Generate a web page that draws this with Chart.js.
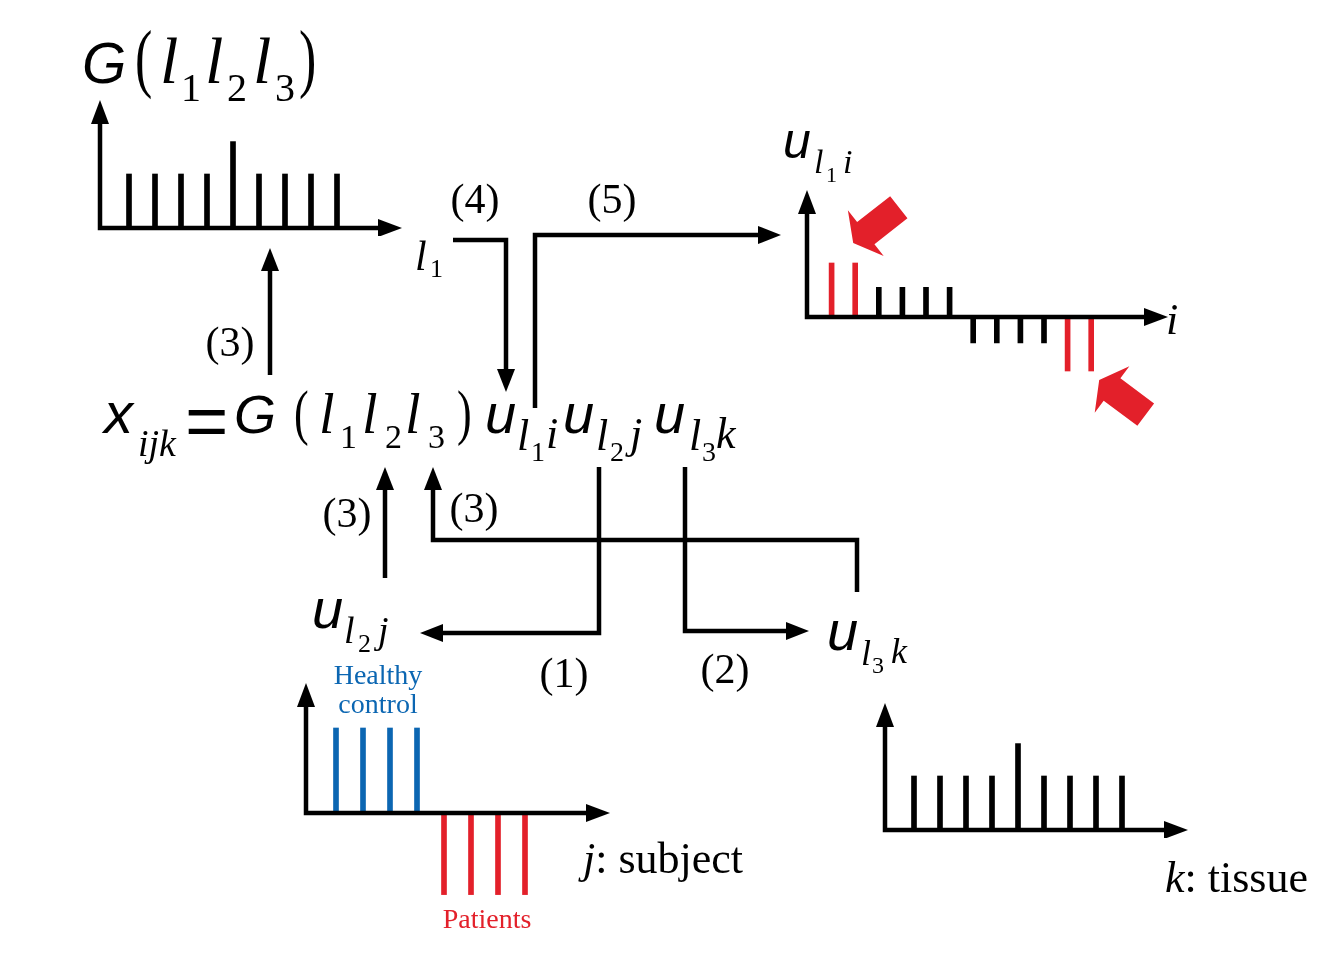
<!DOCTYPE html>
<html>
<head>
<meta charset="utf-8">
<script src="https://cdn.jsdelivr.net/npm/chart.js@4.4.1/dist/chart.umd.min.js"></script>
<style>
  html, body { margin:0; padding:0; background:#fff; }
  #stage { position:relative; width:1323px; height:980px; overflow:hidden; background:#fff; }
  canvas { position:absolute; }
  svg { position:absolute; left:0; top:0; pointer-events:none; }
  .sans { font-family:"Liberation Sans", Arial, sans-serif; font-style:italic; }
  .ser  { font-family:"Liberation Serif", "Times New Roman", serif; }
  .seri { font-family:"Liberation Serif", "Times New Roman", serif; font-style:italic; }
</style>
</head>
<body>
<div id="stage">
  <canvas id="cCore"></canvas>
  <canvas id="cGene"></canvas>
  <canvas id="cSubject"></canvas>
  <canvas id="cTissue"></canvas>
  <svg width="1323" height="980" viewBox="0 0 1323 980" xmlns="http://www.w3.org/2000/svg">
    <g fill="none" stroke="#000" stroke-width="4.5" stroke-linejoin="miter" stroke-linecap="butt">
      <polyline points="453,240 506,240 506,371"/>
      <polyline points="535,408 535,235 760,235"/>
      <polyline points="270,375 270,269"/>
      <polyline points="385,578 385,488"/>
      <polyline points="857,592 857,540 433,540 433,488"/>
      <polyline points="599,467 599,633 441,633"/>
      <polyline points="685,467 685,631 788,631"/>
    </g>
    <g fill="#000">
      <polygon points="506,392 497,369 515,369"/>
      <polygon points="781,235 758,226 758,244"/>
      <polygon points="270,248 261,271 279,271"/>
      <polygon points="385,467 376,490 394,490"/>
      <polygon points="433,467 424,490 442,490"/>
      <polygon points="420,633 443,624 443,642"/>
      <polygon points="809,631 786,622 786,640"/>
    </g>
    <g fill="#000">
      <!-- top-left G(l1 l2 l3) -->
      <text class="sans" font-size="57" x="82" y="83">G</text>
      <text class="ser" font-size="52" transform="translate(135,83) scale(1,1.45)">(</text>
      <text class="seri" font-size="66" x="160" y="83">l</text>
      <text class="ser" font-size="40" x="181" y="101">1</text>
      <text class="seri" font-size="66" x="205" y="83">l</text>
      <text class="ser" font-size="40" x="227" y="101">2</text>
      <text class="seri" font-size="66" x="253" y="83">l</text>
      <text class="ser" font-size="40" x="275" y="101">3</text>
      <text class="ser" font-size="52" transform="translate(299,83) scale(1,1.45)">)</text>

      <text class="seri" font-size="42" x="415" y="270">l</text>
      <text class="ser" font-size="26" x="430" y="277">1</text>

      <text class="ser" font-size="42" x="475" y="213" text-anchor="middle">(4)</text>
      <text class="ser" font-size="42" x="612" y="213" text-anchor="middle">(5)</text>
      <text class="ser" font-size="42" x="230" y="356" text-anchor="middle">(3)</text>
      <text class="ser" font-size="42" x="347" y="527" text-anchor="middle">(3)</text>
      <text class="ser" font-size="42" x="474" y="522" text-anchor="middle">(3)</text>
      <text class="ser" font-size="42" x="564" y="687" text-anchor="middle">(1)</text>
      <text class="ser" font-size="42" x="725" y="683" text-anchor="middle">(2)</text>

      <!-- u_{l1 i} top right -->
      <text class="sans" font-size="50" x="783" y="158">u</text>
      <text class="seri" font-size="34" x="814" y="173">l</text>
      <text class="ser" font-size="22" x="826" y="182">1</text>
      <text class="seri" font-size="34" x="843" y="173">i</text>
      <text class="seri" font-size="44" x="1166" y="334">i</text>

      <!-- formula -->
      <text class="sans" font-size="58" x="104" y="433">x</text>
      <text class="seri" font-size="38" x="138" y="456">ijk</text>
      <text class="sans" font-size="74" x="184" y="446" font-style="normal">=</text>
      <text class="sans" font-size="54" x="234" y="433">G</text>
      <text class="ser" font-size="44" transform="translate(294,433) scale(1,1.4)">(</text>
      <text class="seri" font-size="56" x="319" y="433">l</text>
      <text class="ser" font-size="34" x="340" y="448">1</text>
      <text class="seri" font-size="56" x="362" y="433">l</text>
      <text class="ser" font-size="34" x="385" y="448">2</text>
      <text class="seri" font-size="56" x="405" y="433">l</text>
      <text class="ser" font-size="34" x="428" y="448">3</text>
      <text class="ser" font-size="44" transform="translate(457,433) scale(1,1.4)">)</text>
      <text class="sans" font-size="56" x="485" y="433">u</text>
      <text class="seri" font-size="44" x="517" y="450">l</text>
      <text class="ser" font-size="28" x="531" y="461">1</text>
      <text class="seri" font-size="44" x="546" y="448">i</text>
      <text class="sans" font-size="56" x="563" y="433">u</text>
      <text class="seri" font-size="44" x="596" y="450">l</text>
      <text class="ser" font-size="28" x="610" y="461">2</text>
      <text class="seri" font-size="44" x="630" y="448">j</text>
      <text class="sans" font-size="56" x="654" y="433">u</text>
      <text class="seri" font-size="44" x="689" y="450">l</text>
      <text class="ser" font-size="28" x="702" y="461">3</text>
      <text class="seri" font-size="44" x="716" y="448">k</text>

      <!-- u_{l2 j} -->
      <text class="sans" font-size="56" x="312" y="628">u</text>
      <text class="seri" font-size="38" x="344" y="643">l</text>
      <text class="ser" font-size="26" x="358" y="652">2</text>
      <text class="seri" font-size="38" x="378" y="643">j</text>

      <!-- u_{l3 k} -->
      <text class="sans" font-size="56" x="827" y="650">u</text>
      <text class="seri" font-size="36" x="861" y="665">l</text>
      <text class="ser" font-size="24" x="872" y="673">3</text>
      <text class="seri" font-size="36" x="891" y="663">k</text>

      <text class="ser" font-size="44" x="583" y="873"><tspan font-style="italic">j</tspan>: subject</text>
      <text class="ser" font-size="44" x="1165" y="892"><tspan font-style="italic">k</tspan>: tissue</text>
    </g>
    <text class="ser" font-size="28" x="378" y="684" text-anchor="middle" fill="#0b66b2">Healthy</text>
    <text class="ser" font-size="28" x="378" y="713" text-anchor="middle" fill="#0b66b2">control</text>
    <text class="ser" font-size="28" x="487" y="928" text-anchor="middle" fill="#e3202a">Patients</text>
  </svg>
</div>
<script>
// ---------------- data ----------------
const coreCategories = [1, 2, 3, 4, 5, 6, 7, 8, 9];             // l1 (core tensor index)
const coreValues     = [1, 1, 1, 1, 1.6, 1, 1, 1, 1];

const geneCategories = [1, 2, 3, 4, 5, 6, 7, 8, 9, 10, 11, 12]; // i
const geneValues     = [1, 1, 0.55, 0.55, 0.55, 0.55, -0.48, -0.48, -0.48, -0.48, -1, -1];
const geneSelected   = [true, true, false, false, false, false, false, false, false, false, true, true];

const subjectCategories = [1, 2, 3, 4, 5, 6, 7, 8];           // j: subject
const subjectValues     = [1, 1, 1, 1, -0.96, -0.96, -0.96, -0.96];
const subjectGroups     = ['Healthy control', 'Healthy control', 'Healthy control', 'Healthy control',
                           'Patients', 'Patients', 'Patients', 'Patients'];

const tissueCategories = [1, 2, 3, 4, 5, 6, 7, 8, 9];          // k: tissue
const tissueValues     = [1, 1, 1, 1, 1.6, 1, 1, 1, 1];

// ---------------- styles ----------------
const BLACK = '#000000', RED = '#e3202a', BLUE = '#0b66b2';

const stemAxes = {
  id: 'stemAxes',
  afterDatasetsDraw(chart, args, o) {
    const ctx = chart.ctx, x = chart.scales.x, y = chart.scales.y;
    const ox = x.getPixelForValue(o.originX), oy = y.getPixelForValue(0);
    const tx = x.getPixelForValue(o.tipX), ty = y.getPixelForValue(o.tipY);
    const hl = 24, hw = 9;
    ctx.save();
    ctx.strokeStyle = BLACK; ctx.fillStyle = BLACK; ctx.lineWidth = 4.5;
    ctx.lineJoin = 'miter'; ctx.lineCap = 'butt';
    ctx.beginPath();
    ctx.moveTo(ox, ty + hl - 2); ctx.lineTo(ox, oy); ctx.lineTo(tx - hl + 2, oy);
    ctx.stroke();
    ctx.beginPath(); ctx.moveTo(ox, ty); ctx.lineTo(ox - hw, ty + hl); ctx.lineTo(ox + hw, ty + hl); ctx.closePath(); ctx.fill();
    ctx.beginPath(); ctx.moveTo(tx, oy); ctx.lineTo(tx - hl, oy - hw); ctx.lineTo(tx - hl, oy + hw); ctx.closePath(); ctx.fill();
    (o.blocks || []).forEach(b => {
      const el = chart.getDatasetMeta(0).data[b.index];
      const T = [el.x + b.dx, el.y + b.dy];
      const len = Math.hypot(b.ux, b.uy), ux = b.ux / len, uy = b.uy / len;
      const nx = -uy, ny = ux;
      const H = 16, HW = 29, SW = 14, L = 58;
      const p = (a, w) => [T[0] - ux * a + nx * w, T[1] - uy * a + ny * w];
      const pts = [T, p(H, HW), p(H, SW), p(L, SW), p(L, -SW), p(H, -SW), p(H, -HW)];
      ctx.fillStyle = RED;
      ctx.beginPath();
      pts.forEach((q, i) => i ? ctx.lineTo(q[0], q[1]) : ctx.moveTo(q[0], q[1]));
      ctx.closePath(); ctx.fill();
    });
    ctx.restore();
  }
};

// box: canvas position on page; map: page pixel of value 0 and pixels per unit
function stemChart(id, box, map, cats, vals, colors, axes, blocks) {
  const cv = document.getElementById(id);
  cv.width = box.w; cv.height = box.h;
  cv.style.left = box.l + 'px'; cv.style.top = box.t + 'px';
  cv.style.width = box.w + 'px'; cv.style.height = box.h + 'px';
  const xmin = (box.l - map.x0) / map.xu, xmax = (box.l + box.w - map.x0) / map.xu;
  const ymax = (map.y0 - box.t) / map.yu, ymin = (map.y0 - box.t - box.h) / map.yu;
  return new Chart(cv.getContext('2d'), {
    type: 'bar',
    data: {
      datasets: [{
        data: cats.map((c, i) => ({ x: c, y: vals[i] })),
        backgroundColor: colors,
        borderWidth: 0,
        barThickness: 5
      }]
    },
    options: {
      responsive: false, animation: false, events: [], devicePixelRatio: 1,
      layout: { padding: 0 },
      scales: {
        x: { type: 'linear', offset: false, min: xmin, max: xmax, display: false, grid: { display: false, offset: false } },
        y: { type: 'linear', min: ymin, max: ymax, display: false, grid: { display: false } }
      },
      plugins: {
        legend: { display: false }, tooltip: { enabled: false },
        stemAxes: {
          originX: (axes.ox - map.x0) / map.xu,
          tipX: (axes.tx - map.x0) / map.xu,
          tipY: (map.y0 - axes.ty) / map.yu,
          blocks: blocks || []
        }
      }
    },
    plugins: [stemAxes]
  });
}

stemChart('cCore', { l: 86, t: 94, w: 324, h: 142 },
  { x0: 103, xu: 26, y0: 228, yu: 54 },
  coreCategories, coreValues, coreCategories.map(() => BLACK),
  { ox: 100, tx: 402, ty: 100 });

stemChart('cGene', { l: 795, t: 184, w: 385, h: 250 },
  { x0: 808, xu: 23.6, y0: 317, yu: 54 },
  geneCategories, geneValues, geneSelected.map(s => s ? RED : BLACK),
  { ox: 807, tx: 1168, ty: 190 },
  [ { index: 1, dx: -2, dy: -20, ux: -0.788, uy: 0.619 },
    { index: 11, dx: 8, dy: 9, ux: -0.802, uy: -0.597 } ]);

stemChart('cSubject', { l: 294, t: 676, w: 326, h: 226 },
  { x0: 309, xu: 27, y0: 813, yu: 85 },
  subjectCategories, subjectValues, subjectGroups.map(g => g === 'Patients' ? RED : BLUE),
  { ox: 306, tx: 610, ty: 683 });

stemChart('cTissue', { l: 872, t: 696, w: 326, h: 142 },
  { x0: 888, xu: 26, y0: 830, yu: 54 },
  tissueCategories, tissueValues, tissueCategories.map(() => BLACK),
  { ox: 885, tx: 1188, ty: 703 });
</script>
</body>
</html>
